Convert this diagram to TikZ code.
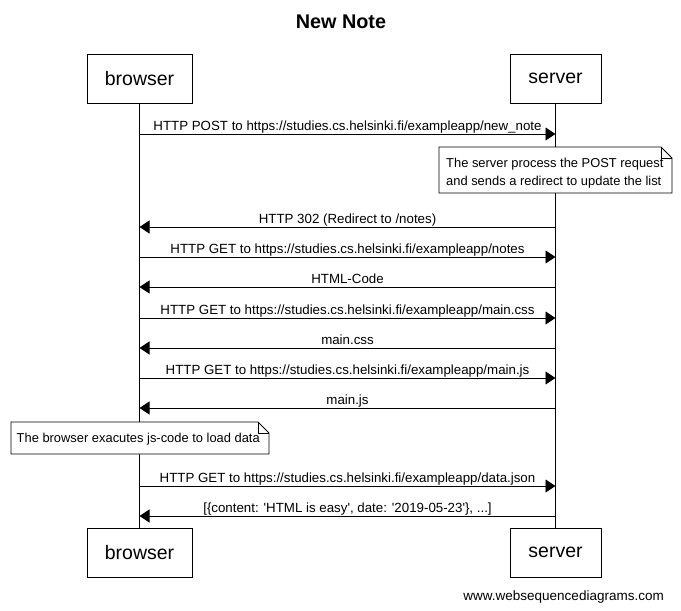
\documentclass[tikz,border=0pt]{standalone}
\usepackage{fontspec}
\setmainfont{Liberation Sans}
\usetikzlibrary{arrows.meta}
\begin{document}
\begin{tikzpicture}[x=1pt,y=-1pt,
  actor/.style={draw,line width=1pt,minimum height=49pt,inner sep=0pt,font=\fontsize{19.5}{22}\selectfont,anchor=center},
  msg/.style={line width=0.9pt,-{Triangle[length=10pt,width=13pt]}},
  lbl/.style={font=\fontsize{13.3}{15}\selectfont,inner sep=0pt,anchor=base,yshift=4pt},
  lifeline/.style={line width=1pt},
  notetext/.style={font=\fontsize{12.9}{18}\selectfont,inner sep=0pt,align=left,anchor=base west},
  notebox/.style={line width=0.8pt,fill=white}
]
\useasboundingbox (0,0) rectangle (681,611);
\fill[white] (0,0) rectangle (681,611);
\node[font=\fontsize{19.8}{22}\selectfont\bfseries] (title) at (341,22) {New Note};
% actors
\node[actor,minimum width=105pt] (bt) at (139.5,78.5) {browser};
\node[actor,minimum width=91pt] (st) at (555.5,78.5) {server};
\node[actor,minimum width=105pt] (bb) at (139.5,552.5) {browser};
\node[actor,minimum width=91pt] (sb) at (555.5,552.5) {server};
% lifelines
\draw[lifeline] (bt.south) -- (bb.north);
\draw[lifeline] (st.south) -- (sb.north);
% message coordinates
\foreach \n/\y in {1/134,2/227,3/257,4/287,5/318,6/348,7/378,8/408,9/486,10/516}{
  \coordinate (b\n) at (139.5,\y);
  \coordinate (s\n) at (555.5,\y);
}
\draw[msg] (b1) -- node[lbl] (l1) {HTTP POST to https://studies.cs.helsinki.fi/exampleapp/new\_note} (s1);
\draw[msg] (s2) -- node[lbl] (l2) {HTTP 302 (Redirect to /notes)} (b2);
\draw[msg] (b3) -- node[lbl] (l3) {HTTP GET to https://studies.cs.helsinki.fi/exampleapp/notes} (s3);
\draw[msg] (s4) -- node[lbl] (l4) {HTML-Code} (b4);
\draw[msg] (b5) -- node[lbl] (l5) {HTTP GET to https://studies.cs.helsinki.fi/exampleapp/main.css} (s5);
\draw[msg] (s6) -- node[lbl] (l6) {main.css} (b6);
\draw[msg] (b7) -- node[lbl] (l7) {HTTP GET to https://studies.cs.helsinki.fi/exampleapp/main.js} (s7);
\draw[msg] (s8) -- node[lbl] (l8) {main.js} (b8);
\draw[msg] (b9) -- node[lbl] (l9) {HTTP GET to https://studies.cs.helsinki.fi/exampleapp/data.json} (s9);
\draw[msg] (s10) -- node[lbl] (l10) {[\{content: \textquotesingle HTML is easy\textquotesingle, date: \textquotesingle 2019-05-23\textquotesingle\}, ...]} (b10);
% note 1
\draw[notebox] (439,147) -- (661,147) -- (672,158) -- (672,193) -- (439,193) -- cycle;
\draw[line width=0.8pt] (661,147) -- (661,158) -- (672,158);
\node[notetext] (n1a) at (446,167.5) {The server process the POST request};
\node[notetext] (n1b) at (446,185.5) {and sends a redirect to update the list};
% note 2
\draw[notebox] (11,422) -- (258,422) -- (269,433) -- (269,454) -- (11,454) -- cycle;
\draw[line width=0.8pt] (258,422) -- (258,433) -- (269,433);
\node[notetext] (n2) at (16.5,442.5) {The browser exacutes js-code to load data};
% watermark
\node[font=\fontsize{13.5}{16}\selectfont,anchor=east,inner sep=0pt] (wm) at (664,597) {www.websequencediagrams.com};
\end{tikzpicture}
\end{document}
